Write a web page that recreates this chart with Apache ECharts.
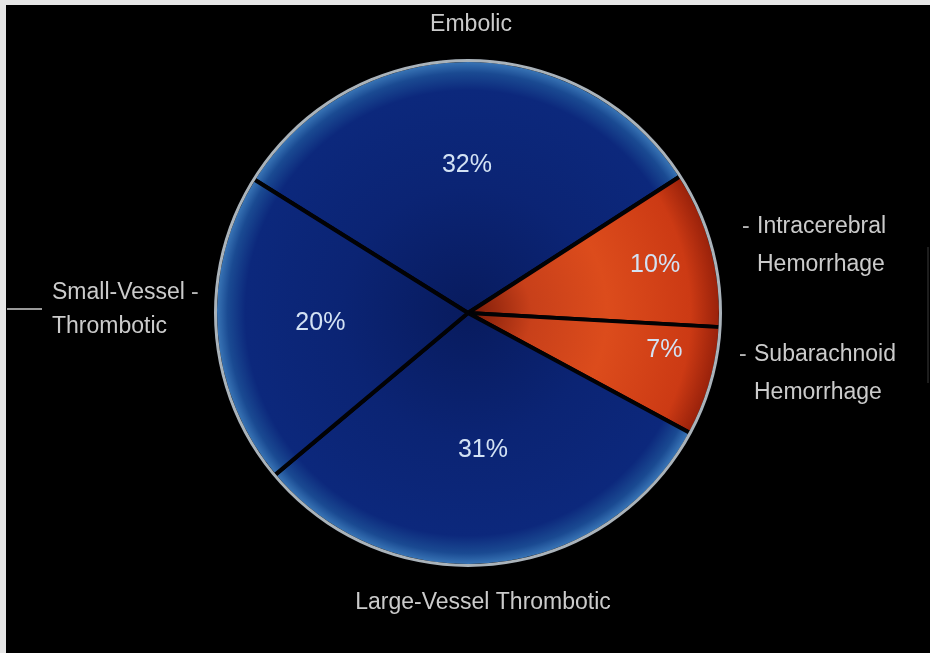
<!DOCTYPE html>
<html>
<head>
<meta charset="utf-8">
<title>Stroke subtypes</title>
<script src="https://cdn.jsdelivr.net/npm/echarts@6/dist/echarts.min.js"></script>
<style>
  html, body { margin: 0; padding: 0; background: #e6e6e6; }
  #chart { position: absolute; left: 6px; top: 5px; width: 924px; height: 648px; background: #000; }
</style>
</head>
<body>
<div id="chart"></div>
<script>
// data (clockwise from the top-left edge)
const categories = [
  "Embolic",
  "Intracerebral Hemorrhage",
  "Subarachnoid Hemorrhage",
  "Large-Vessel Thrombotic",
  "Small-Vessel Thrombotic",
];
const shares = [32, 10, 7, 31, 20];
const hemorrhagic = ["Intracerebral Hemorrhage", "Subarachnoid Hemorrhage"];

const CX = 462;
const CY = 308;
const R = 253;
const FONT = "'Liberation Sans', Arial, sans-serif";

const blueFill = {
  type: "radial", x: CX, y: CY, r: R, global: true,
  colorStops: [
    { offset: 0, color: "#081b5e" },
    { offset: 0.5, color: "#0b2474" },
    { offset: 0.88, color: "#0c287c" },
    { offset: 0.95, color: "#1a4a92" },
    { offset: 1, color: "#3e7cbc" },
  ],
};
const orangeFill = {
  type: "radial", x: CX, y: CY, r: R, global: true,
  colorStops: [
    { offset: 0, color: "#7a1a08" },
    { offset: 0.25, color: "#c8401a" },
    { offset: 0.55, color: "#dc4c1c" },
    { offset: 0.88, color: "#cc3a14" },
    { offset: 1, color: "#96200a" },
  ],
};

// outside names, written as rich text so the little dashes sit on the first line
const nameText = {
  "Embolic": "{t|Embolic}",
  "Intracerebral Hemorrhage": "{dash|-}{t|Intracerebral}\n{pad|}{t|Hemorrhage}",
  "Subarachnoid Hemorrhage": "{dash|-}{t|Subarachnoid}\n{pad|}{t|Hemorrhage}",
  "Large-Vessel Thrombotic": "{t|Large-Vessel Thrombotic}",
  "Small-Vessel Thrombotic": "{tl|Small-Vessel}{gap|}{dash|-}\n{tl|Thrombotic}",
};
const namePlace = {
  "Embolic": { x: 465, y: 20, align: "center", verticalAlign: "middle" },
  "Intracerebral Hemorrhage": { x: 736, y: 203, align: "left", verticalAlign: "top" },
  "Subarachnoid Hemorrhage": { x: 733, y: 331, align: "left", verticalAlign: "top" },
  "Large-Vessel Thrombotic": { x: 477, y: 598, align: "center", verticalAlign: "middle" },
  "Small-Vessel Thrombotic": { x: 46, y: 271, align: "left", verticalAlign: "top" },
};
const pctNudge = {
  "Intracerebral Hemorrhage": { dx: 44, dy: -10 },
  "Subarachnoid Hemorrhage": { dx: 54, dy: -3 },
  "Large-Vessel Thrombotic": { dx: 0, dy: -10 },
};

const pieData = categories.map((name, i) => ({
  name,
  value: shares[i],
  itemStyle: { color: hemorrhagic.includes(name) ? orangeFill : blueFill },
}));

const chart = echarts.init(document.getElementById("chart"));
chart.setOption({
  backgroundColor: "#000",
  animation: false,
  series: [
    {
      name: "Stroke type",
      type: "pie",
      center: [CX, CY],
      radius: [0, R],
      startAngle: 148,
      clockwise: true,
      silent: true,
      data: pieData,
      itemStyle: { borderColor: "#020204", borderWidth: 4 },
      label: {
        show: true,
        position: "outside",
        formatter: (p) => nameText[p.name],
        color: "#cfcfcf",
        fontFamily: FONT,
        rich: {
          t: { fontSize: 23, color: "#cbcbcb", fontFamily: FONT, lineHeight: 38 },
          tl: { fontSize: 23, color: "#cbcbcb", fontFamily: FONT, lineHeight: 34 },
          dash: { fontSize: 23, color: "#b5b5b5", fontFamily: FONT, width: 15 },
          pad: { width: 15 },
          gap: { width: 6 },
        },
      },
      labelLine: { show: false },
      labelLayout: (p) => namePlace[categories[p.dataIndex]],
      emphasis: { disabled: true },
    },
    {
      name: "Share",
      type: "pie",
      center: [CX, CY],
      radius: [0, 290],
      startAngle: 148,
      clockwise: true,
      silent: true,
      z: 3,
      data: categories.map((name, i) => ({ name, value: shares[i] })),
      itemStyle: { color: "rgba(0,0,0,0)" },
      label: {
        show: true,
        position: "inside",
        formatter: (p) => p.value + "%",
        fontFamily: FONT,
        fontSize: 25,
        color: "#d3e2f4",
      },
      labelLayout: (p) => pctNudge[categories[p.dataIndex]] || {},
      emphasis: { disabled: true },
    },
    {
      name: "Rim",
      type: "pie",
      center: [CX, CY],
      radius: [R - 2, R + 1],
      silent: true,
      z: 4,
      data: [{ value: 1 }],
      itemStyle: { color: "#aab3ba" },
      label: { show: false },
      labelLine: { show: false },
      emphasis: { disabled: true },
    },
  ],
  graphic: [
    {
      type: "line",
      shape: { x1: 1, y1: 304, x2: 36, y2: 304 },
      style: { stroke: "#9a9a9a", lineWidth: 2 },
    },
    {
      type: "line",
      shape: { x1: 922, y1: 242, x2: 922, y2: 378 },
      style: { stroke: "#3a3a3a", lineWidth: 1 },
    },
  ],
});
</script>
</body>
</html>
